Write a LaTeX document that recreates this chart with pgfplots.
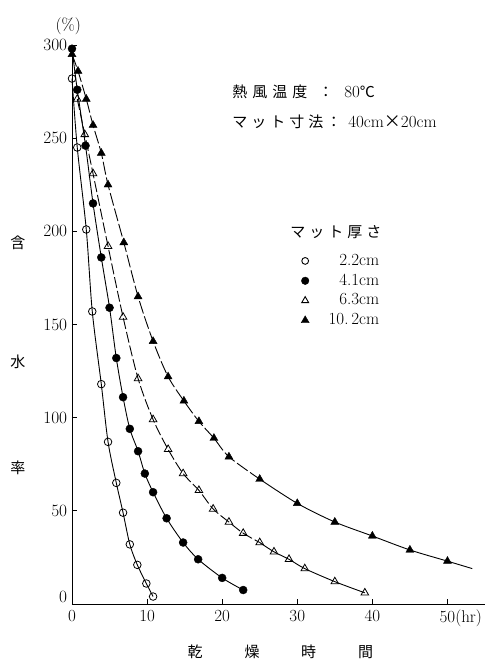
\documentclass[border=0pt]{standalone}
\usepackage{pgfplots}
\usepackage{pgfplotstable}
\pgfplotsset{compat=1.18}
\usepackage{fontspec}
\newfontfamily\jp{Noto Sans CJK JP}
\pgfplotstableread{
x y
0 282
0.7 245
1.9 201
2.7 157
3.9 118
4.8 87
5.9 65
6.8 49
7.7 32
8.7 21
9.9 11
10.8 4
}\tA
\pgfplotstableread{
x y
0 298
0.7 276
1.8 246
2.8 215
3.9 186
5.0 159
5.9 132
6.8 111
7.7 94
8.8 82
9.7 70
10.8 60
12.6 46
14.8 33
16.8 24
20 14
22.8 7.5
}\tB
\pgfplotstableread{
x y
0.7 271
1.7 252
2.8 231
4.8 192
6.8 154
8.8 121
10.8 99
12.8 83
14.8 70
16.9 61
18.8 51
20.9 44
22.8 38
25 33
26.9 28
28.9 24
31 19
35 12
39 6
}\tC
\pgfplotstableread{
x y
0 295
0.8 286
1.9 271
2.8 257
3.9 242
4.8 225
6.9 194
8.8 165
10.8 141
12.8 122
14.9 109
16.9 98
18.9 89
20.9 79
25 67
30 54
35 44
40 36.5
45 29
50 23
}\tD
\pgfplotstableread{
x y
25 67
30 54
35 44
40 36.5
45 29
50 23
53.3 19
}\tDend
\pgfplotstableread{
x y
25 33
26.9 28
28.9 24
31 19
35 12
39 6
}\tCend
\newcommand{\legtxt}[1]{\makebox[68pt][r]{#1}}
\begin{document}
\fontsize{17}{20}\selectfont
\begin{tikzpicture}
\useasboundingbox (-72pt,-58pt) rectangle (421pt,604pt);
\begin{axis}[
  at={(0pt,0pt)}, anchor=south west,
  scale only axis, width=413pt, height=559pt,
  xmin=0, xmax=55, ymin=0, ymax=300,
  axis x line*=bottom, axis y line*=left,
  axis line style={line width=0.9pt},
  xtick={0,10,20,30,40,50},
  xticklabels={0,10,20,30,40,50\rlap{(hr)}},
  ytick={50,100,...,300},
  extra y ticks={0},
  extra y tick style={major tick length=0pt, yticklabel style={yshift=7pt}},
  tick style={black, line width=0.8pt},
  major tick length=5pt,
  tick align=inside,
  tick label style={font=\fontsize{17}{20}\selectfont},
  yticklabel style={xshift=1pt},
  clip=false,
  legend style={at={(axis cs:41.2,189)}, anchor=north east, draw=none, fill=none,
    font=\fontsize{17}{20}\selectfont, row sep=2pt, inner sep=0pt},
  legend cell align=right,
]
% 2.2 cm
\addplot[black, line width=0.9pt, smooth, forget plot] table {\tA};
\addplot[only marks, mark=o, mark size=3.8pt, mark options={fill=white, line width=0.8pt}, forget plot] table {\tA};
% 4.1 cm
\addplot[black, line width=0.9pt, smooth, forget plot] table {\tB};
\addplot[only marks, mark=*, mark size=4pt, black, forget plot] table {\tB};
% 6.3 cm
\addplot[black, line width=0.9pt, smooth, dash pattern=on 11pt off 3pt, restrict x to domain=0:25, forget plot] table {\tC};
\addplot[black, line width=0.9pt, smooth, forget plot] table {\tCend};
\addplot[only marks, mark=triangle, mark size=4.4pt, mark options={fill=white, line width=0.8pt}, forget plot] table {\tC};
% 10.2 cm
\addplot[black, line width=0.9pt, smooth, dash pattern=on 13pt off 3pt, restrict x to domain=0:25, forget plot] table {\tD};
\addplot[black, line width=0.9pt, smooth, forget plot] table {\tDend};
\addplot[only marks, mark=triangle*, mark size=4.6pt, black, forget plot] table {\tD};
% legend
\addlegendimage{only marks, mark=o, mark size=3.4pt, mark options={line width=0.9pt}}
\addlegendentry{\legtxt{2.2cm}}
\addlegendimage{only marks, mark=*, mark size=3.8pt, black}
\addlegendentry{\legtxt{4.1cm}}
\addlegendimage{only marks, mark=triangle, mark size=4pt, mark options={line width=0.9pt}}
\addlegendentry{\legtxt{6.3cm}}
\addlegendimage{only marks, mark=triangle*, mark size=4.6pt, black}
\addlegendentry{\legtxt{10.\,2cm}}
% texts
\node[font=\fontsize{17}{20}\selectfont] at (axis cs:-0.5,300) [yshift=19pt] {(\%)};
\node[font=\jp\fontsize{15}{17}\selectfont] at (axis cs:-7.2,194) {含};
\node[font=\jp\fontsize{15}{17}\selectfont] at (axis cs:-7.2,130) {水};
\node[font=\jp\fontsize{15}{17}\selectfont] at (axis cs:-7.2,73) {率};
\node[font=\jp\fontsize{15}{17}\selectfont] at (axis cs:16.4,0) [yshift=-48pt] {乾};
\node[font=\jp\fontsize{15}{17}\selectfont] at (axis cs:24,0) [yshift=-48pt] {燥};
\node[font=\jp\fontsize{15}{17}\selectfont] at (axis cs:31.5,0) [yshift=-48pt] {時};
\node[font=\jp\fontsize{15}{17}\selectfont] at (axis cs:39.1,0) [yshift=-48pt] {間};
\node[anchor=west, inner sep=0pt] at (axis cs:21.33,274.8)
  {{\jp\fontsize{15}{17}\selectfont 熱\hspace{5pt}風\hspace{5pt}温\hspace{5pt}度\hspace{11pt}：\hspace{11pt}}80{\jp\fontsize{15}{17}\selectfont ℃}};
\node[anchor=west, inner sep=0pt] at (axis cs:21.33,258.7)
  {{\jp\fontsize{15}{17}\selectfont マ\hspace{4pt}ッ\hspace{4pt}ト\hspace{4pt}寸\hspace{4pt}法\hspace{3pt}：\hspace{7pt}}40cm{\jp\fontsize{17}{17}\selectfont ×}20cm};
\node[anchor=west, inner sep=0pt] at (axis cs:29.07,199.7)
  {\jp\fontsize{15}{17}\selectfont マ\hspace{4pt}ッ\hspace{4pt}ト\hspace{4pt}厚\hspace{4pt}さ};
\end{axis}
\end{tikzpicture}
\end{document}
